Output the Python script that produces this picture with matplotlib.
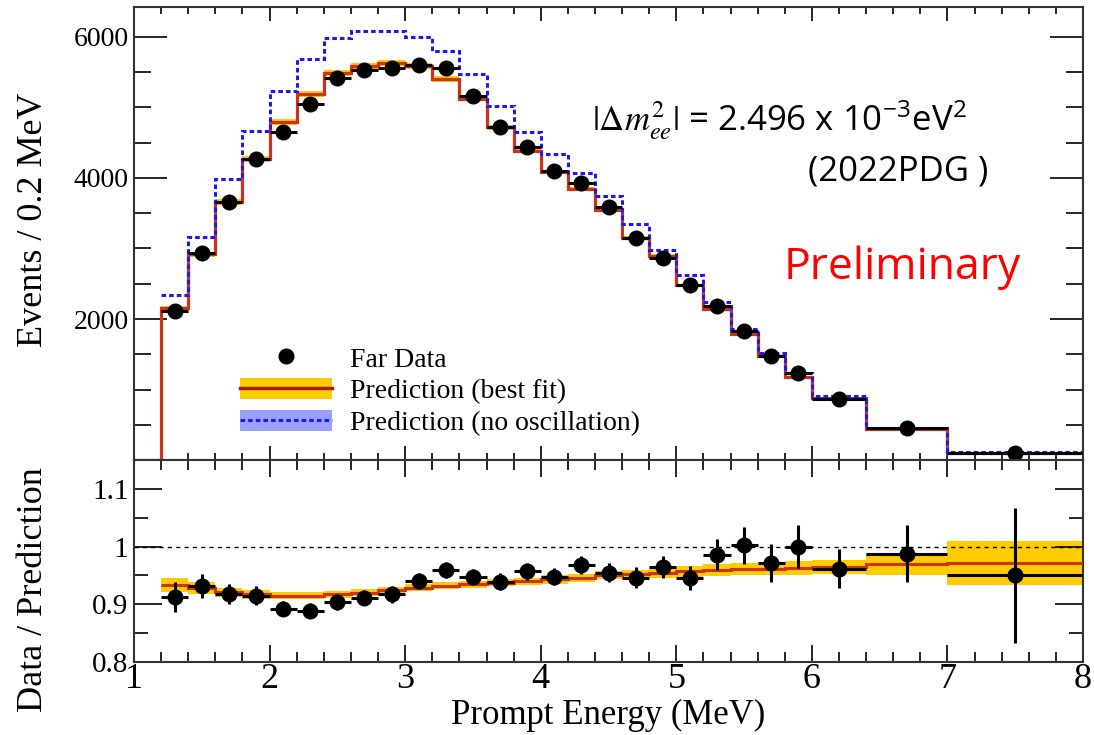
import numpy as np
import matplotlib
matplotlib.use('Agg')
import matplotlib.pyplot as plt
from matplotlib.lines import Line2D
from matplotlib.patches import Patch

plt.rcParams['font.family'] = ['Liberation Serif', 'DejaVu Serif']
plt.rcParams['mathtext.fontset'] = 'stix'

# bin edges (MeV), the 1.0-1.2 bin is empty
edges = [1.2, 1.4, 1.6, 1.8, 2.0, 2.2, 2.4, 2.6, 2.8, 3.0, 3.2, 3.4, 3.6, 3.8,
         4.0, 4.2, 4.4, 4.6, 4.8, 5.0, 5.2, 5.4, 5.6, 5.8, 6.0, 6.4, 7.0, 8.0]

# events / 0.2 MeV
far_data = [2110, 2935, 3660, 4270, 4650, 5050, 5420, 5530, 5560, 5600, 5560, 5160, 4720, 4440,
            4100, 3930, 3590, 3150, 2860, 2480, 2180, 1830, 1480, 1230, 870, 450, 95]
best_fit = [2150, 2920, 3660, 4270, 4790, 5190, 5490, 5590, 5630, 5590, 5400, 5120, 4720, 4380,
            4080, 3840, 3550, 3150, 2890, 2480, 2140, 1790, 1480, 1180, 880, 440, 100]
best_fit_err = [35, 35, 40, 40, 40, 40, 40, 40, 40, 40, 40, 35, 35, 30,
                30, 30, 28, 25, 25, 22, 20, 18, 15, 14, 10, 8, 4]
no_osc = [2340, 3160, 3985, 4670, 5240, 5690, 5985, 6080, 6090, 6000, 5800, 5470, 5020, 4650,
          4340, 4070, 3745, 3350, 2980, 2620, 2240, 1860, 1520, 1230, 915, 455, 115]

# data / prediction
ratio = [0.913, 0.932, 0.918, 0.915, 0.892, 0.889, 0.904, 0.911, 0.917, 0.941, 0.960, 0.948, 0.939, 0.957,
         0.948, 0.968, 0.955, 0.946, 0.965, 0.946, 0.986, 1.002, 0.972, 1.000, 0.962, 0.988, 0.950]
ratio_err = [0.026, 0.021, 0.018, 0.017, 0.013, 0.013, 0.013, 0.013, 0.014, 0.014, 0.014, 0.014, 0.015, 0.015,
             0.015, 0.016, 0.017, 0.018, 0.019, 0.021, 0.027, 0.032, 0.033, 0.037, 0.034, 0.049, 0.117]
fit_ratio = [0.934, 0.928, 0.921, 0.917, 0.915, 0.915, 0.917, 0.920, 0.924, 0.929, 0.932, 0.935, 0.937, 0.940,
             0.943, 0.946, 0.950, 0.952, 0.954, 0.957, 0.959, 0.961, 0.962, 0.963, 0.965, 0.970, 0.971]
fit_ratio_err = [0.012, 0.010, 0.008, 0.007, 0.006, 0.006, 0.006, 0.006, 0.006, 0.006, 0.006, 0.006, 0.006, 0.006,
                 0.007, 0.007, 0.007, 0.008, 0.008, 0.009, 0.010, 0.011, 0.011, 0.012, 0.012, 0.019, 0.038]

edges = np.array(edges)
centers = (edges[:-1] + edges[1:]) / 2
half_w = (edges[1:] - edges[:-1]) / 2
best_fit = np.array(best_fit)
best_fit_err = np.array(best_fit_err)
fit_ratio = np.array(fit_ratio)
fit_ratio_err = np.array(fit_ratio_err)

RED = '#cc3318'
YELLOW = '#ffcc00'
BLUE = '#1a1aee'
LBLUE = '#9aa0ff'

fig = plt.figure(figsize=(10.94, 7.35), dpi=100)
ax1 = fig.add_axes([0.1225, 0.3741, 0.8675, 0.6164])
ax2 = fig.add_axes([0.1225, 0.0993, 0.8675, 0.2748])

# --- top panel ---
ax1.stairs(best_fit + best_fit_err, edges, baseline=best_fit - best_fit_err, fill=True, color=YELLOW, lw=0, zorder=1)
ax1.stairs(np.r_[0, best_fit], np.r_[1.0, edges], baseline=None, color=RED, lw=2.3, zorder=2)
ax1.stairs(no_osc, edges, baseline=None, color=BLUE, lw=2.2, ls=(0, (1.5, 1)), zorder=3)
ax1.errorbar(centers, far_data, xerr=half_w, fmt='o', color='black', ms=10.5, elinewidth=2.2, capsize=0, zorder=4)

ax1.set_xlim(1, 8)
ax1.set_ylim(0, 6425)
ax1.set_yticks([2000, 4000, 6000])
ax1.set_yticks(np.arange(500, 6500, 500), minor=True)
ax1.set_xticks(range(1, 9))
ax1.set_xticks(np.arange(1, 8.01, 0.2), minor=True)
ax1.tick_params(axis='both', which='both', direction='in', top=True, right=True, labelbottom=False, width=1.2)
ax1.tick_params(axis='y', which='major', length=24, labelsize=20, pad=4)
ax1.tick_params(axis='y', which='minor', length=12)
ax1.tick_params(axis='x', which='major', length=10)
ax1.tick_params(axis='x', which='minor', length=5)
ax1.set_ylabel('Events / 0.2 MeV', fontsize=26)
ax1.yaxis.set_label_coords(-0.088, 0.53)

handles = [
    Line2D([], [], marker='o', color='black', ls='none', ms=10.5),
    (Patch(facecolor=YELLOW, edgecolor='none'), Line2D([], [], color='#a3200c', lw=2.5)),
    (Patch(facecolor=LBLUE, edgecolor='none'), Line2D([], [], color=BLUE, lw=2.2, ls=(0, (1.5, 1)))),
]
labels = ['Far Data', 'Prediction (best fit)', 'Prediction (no oscillation)']
ax1.legend(handles, labels, loc='upper left', bbox_to_anchor=(0.112, 0.251), frameon=False,
           fontsize=20, handlelength=3.3, handleheight=0.8, handletextpad=0.65,
           labelspacing=0.2, borderpad=0, borderaxespad=0)

ax1.text(0.483, 0.75, r'$|\Delta m^{2}_{ee}|$ = 2.496 x 10$^{\mathregular{-3}}$eV$^{\mathregular{2}}$',
         transform=ax1.transAxes, family='Open Sans', fontsize=25, va='center', ha='left')
ax1.text(0.805, 0.636, '(2022PDG )', transform=ax1.transAxes, family='Open Sans', fontsize=25,
         va='center', ha='center')
ax1.text(0.934, 0.424, 'Preliminary', transform=ax1.transAxes, family='Open Sans', fontsize=32,
         color='red', va='center', ha='right')

# --- ratio panel ---
ax2.stairs(fit_ratio + fit_ratio_err, edges, baseline=fit_ratio - fit_ratio_err, fill=True, color=YELLOW, lw=0, zorder=1)
ax2.axhline(1.0, color='black', ls=(0, (3, 3)), lw=1, zorder=2)
ax2.stairs(fit_ratio, edges, baseline=None, color=RED, lw=2.2, zorder=3)
ax2.errorbar(centers, ratio, xerr=half_w, yerr=ratio_err, fmt='o', color='black', ms=10.5,
             elinewidth=2.2, capsize=0, zorder=4)

ax2.set_xlim(1, 8)
ax2.set_ylim(0.8, 1.15)
ax2.set_yticks([0.8, 0.9, 1.0, 1.1])
ax2.set_yticklabels(['0.8', '0.9', '1', '1.1'])
ax2.set_yticks(np.arange(0.8, 1.151, 0.05), minor=True)
ax2.set_xticks(range(1, 9))
ax2.set_xticks(np.arange(1, 8.01, 0.2), minor=True)
ax2.tick_params(axis='both', which='both', direction='in', top=True, right=True, width=1.2)
ax2.tick_params(axis='y', which='major', length=20, labelsize=21, pad=4)
ax2.tick_params(axis='y', which='minor', length=10)
ax2.tick_params(axis='x', which='major', length=12, labelsize=26, pad=1)
ax2.tick_params(axis='x', which='minor', length=7)
ax2.set_ylabel('Data / Prediction', fontsize=26)
ax2.yaxis.set_label_coords(-0.088, 0.36)
ax2.set_xlabel('Prompt Energy (MeV)', fontsize=25)
ax2.xaxis.set_label_coords(0.5, -0.185)
ax2.xaxis.label.set_va('top')

for ax in (ax1, ax2):
    for s in ax.spines.values():
        s.set_linewidth(1.5)
        s.set_color('#333333')

fig.savefig('out.png', dpi=100)
